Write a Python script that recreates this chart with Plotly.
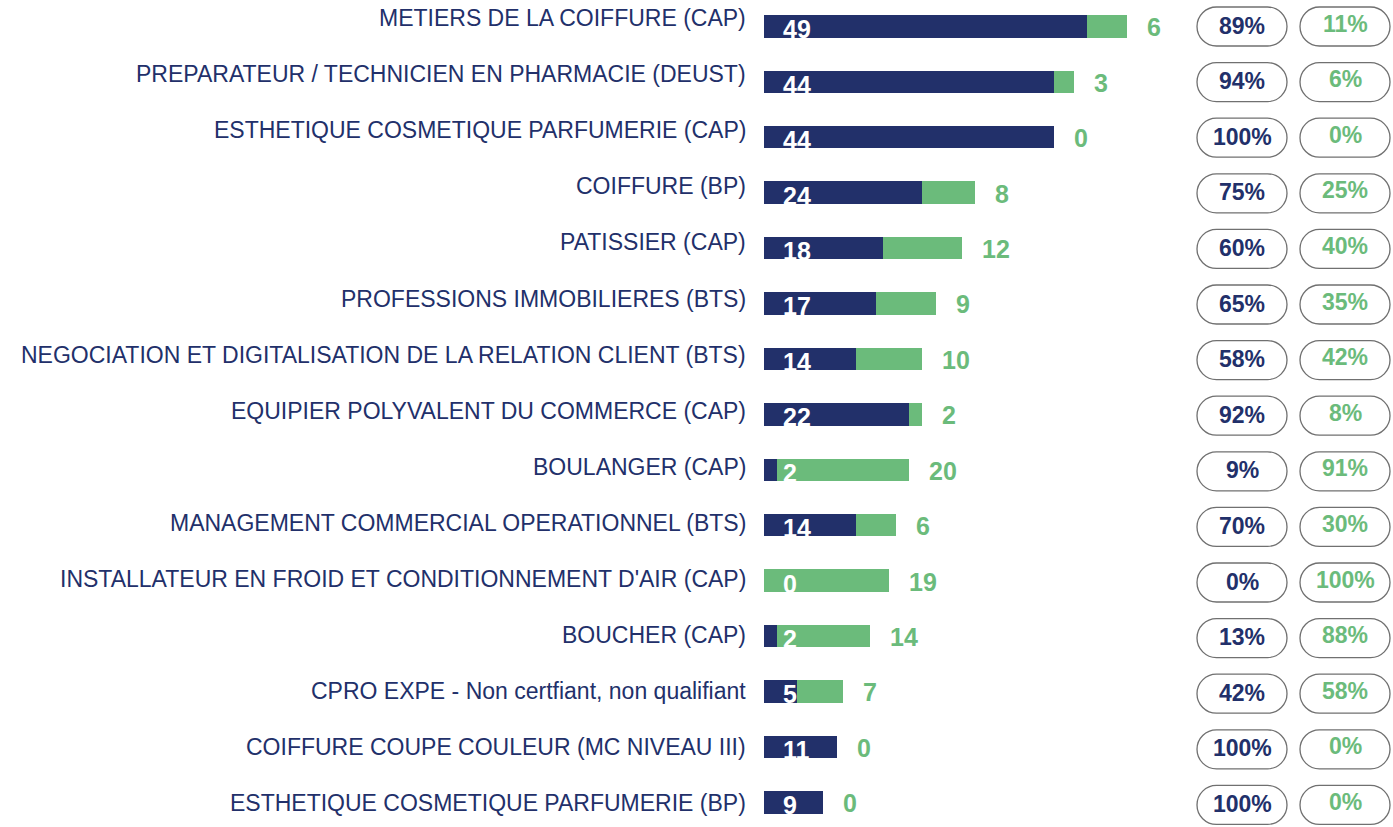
import plotly.graph_objects as go

categories = [
    "METIERS DE LA COIFFURE (CAP)",
    "PREPARATEUR / TECHNICIEN EN PHARMACIE (DEUST)",
    "ESTHETIQUE COSMETIQUE PARFUMERIE (CAP)",
    "COIFFURE (BP)",
    "PATISSIER (CAP)",
    "PROFESSIONS IMMOBILIERES (BTS)",
    "NEGOCIATION ET DIGITALISATION DE LA RELATION CLIENT (BTS)",
    "EQUIPIER POLYVALENT DU COMMERCE (CAP)",
    "BOULANGER (CAP)",
    "MANAGEMENT COMMERCIAL OPERATIONNEL (BTS)",
    "INSTALLATEUR EN FROID ET CONDITIONNEMENT D'AIR (CAP)",
    "BOUCHER (CAP)",
    "CPRO EXPE - Non certfiant, non qualifiant",
    "COIFFURE COUPE COULEUR (MC NIVEAU III)",
    "ESTHETIQUE COSMETIQUE PARFUMERIE (BP)",
]
navy_values = [49, 44, 44, 24, 18, 17, 14, 22, 2, 14, 0, 2, 5, 11, 9]
green_values = [6, 3, 0, 8, 12, 9, 10, 2, 20, 6, 19, 14, 7, 0, 0]
navy_pct = ["89%", "94%", "100%", "75%", "60%", "65%", "58%", "92%", "9%", "70%", "0%", "13%", "42%", "100%", "100%"]
green_pct = ["11%", "6%", "0%", "25%", "40%", "35%", "42%", "8%", "91%", "30%", "100%", "88%", "58%", "0%", "0%"]

NAVY = "#22306A"
GREEN = "#6BBB7B"
FONT = "Liberation Sans, Arial, sans-serif"
W, H = 1393, 827

rows = list(range(len(categories)))
totals = [a + b for a, b in zip(navy_values, green_values)]

fig = go.Figure()
fig.add_trace(go.Bar(y=rows, x=navy_values, orientation="h", marker=dict(color=NAVY, line=dict(width=0)),
                     width=0.405, hoverinfo="skip"))
fig.add_trace(go.Bar(y=rows, x=green_values, base=navy_values, orientation="h",
                     marker=dict(color=GREEN, line=dict(width=0)), width=0.405, hoverinfo="skip"))

ann = []
shapes = []
r, hw, k = 19.5, 45, 0.5523
pill_path = (f"M {-hw + r},{r} L {hw - r},{r} "
             f"C {hw - r + r * k},{r} {hw},{r * k} {hw},0 "
             f"C {hw},{-r * k} {hw - r + r * k},{-r} {hw - r},{-r} "
             f"L {-hw + r},{-r} "
             f"C {-hw + r - r * k},{-r} {-hw},{-r * k} {-hw},0 "
             f"C {-hw},{r * k} {-hw + r - r * k},{r} {-hw + r},{r} Z")
for i in rows:
    # category labels
    ann.append(dict(x=748 / W, xref="paper", y=i, yref="y2", text=categories[i], showarrow=False,
                    xanchor="right", yanchor="middle", font=dict(family=FONT, size=23, color=NAVY)))
    # navy value inside
    ann.append(dict(x=0, xref="x", y=i, yref="y", text=str(navy_values[i]), showarrow=False,
                    xanchor="left", yanchor="middle", xshift=17, yshift=-3,
                    font=dict(family=FONT, size=25, color="white", weight="bold")))
    # green value outside
    ann.append(dict(x=totals[i], xref="x", y=i, yref="y", text=str(green_values[i]), showarrow=False,
                    xanchor="left", yanchor="middle", xshift=18, yshift=-1,
                    font=dict(family=FONT, size=25, color=GREEN, weight="bold")))
    # pills
    for cx, txt, col, ys in ((1242, navy_pct[i], NAVY, 1), (1345, green_pct[i], GREEN, 3)):
        shapes.append(dict(type="path", xref="paper", yref="y3", xsizemode="pixel", ysizemode="pixel",
                           xanchor=cx / W, yanchor=i, path=pill_path,
                           line=dict(color="#707070", width=1.3), fillcolor="rgba(0,0,0,0)"))
        ann.append(dict(x=cx / W, xref="paper", y=i, yref="y3", text=txt, showarrow=False,
                        xanchor="center", yanchor="middle", yshift=ys,
                        font=dict(family=FONT, size=23, color=col, weight="bold")))

px_per_unit = 6.6
x0 = 764
b0, bp = 26.3, 55.43
l0, lp = 18.0, 56.1
p0, pp = 26.5, 55.6
fig.update_layout(
    width=W, height=H, margin=dict(l=0, r=0, t=0, b=0),
    paper_bgcolor="white", plot_bgcolor="white",
    barmode="stack", showlegend=False,
    xaxis=dict(range=[-x0 / px_per_unit, (W - x0) / px_per_unit], visible=False, domain=[0, 1]),
    yaxis=dict(range=[(H - b0) / bp, -b0 / bp], visible=False),
    yaxis2=dict(range=[(H - l0) / lp, -l0 / lp], visible=False, overlaying="y"),
    yaxis3=dict(range=[(H - p0) / pp, -p0 / pp], visible=False, overlaying="y"),
    annotations=ann, shapes=shapes,
)
fig.write_html("out.html", config={"displayModeBar": False},
               post_script="document.body.style.margin='0';document.body.style.overflow='hidden';")
